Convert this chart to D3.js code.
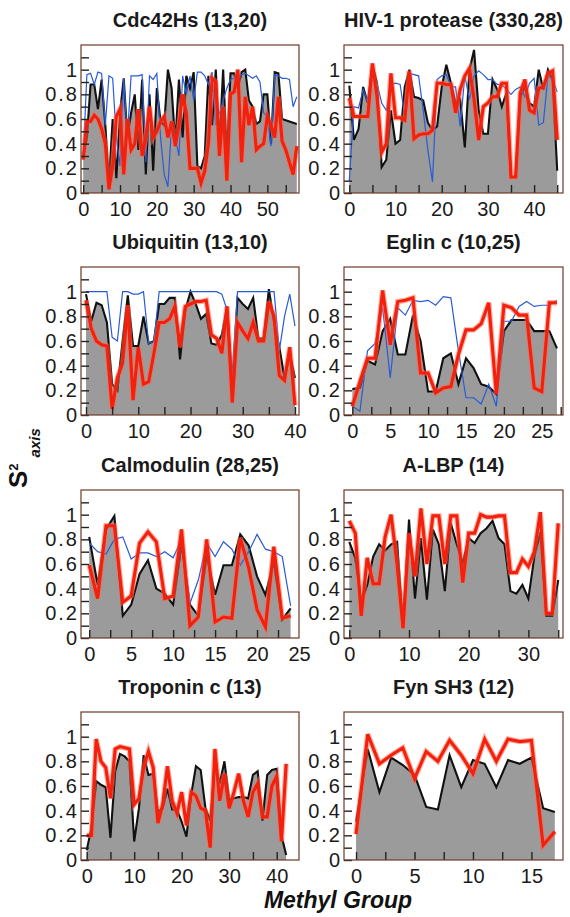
<!DOCTYPE html>
<html><head><meta charset="utf-8">
<script src="https://cdn.jsdelivr.net/npm/d3@7"></script>
<style>html,body{margin:0;padding:0;background:#fff}svg{display:block}</style>
</head><body><svg id="c" width="570" height="917"></svg>
<script>
// ---------------- DATA ----------------
const titles = ["Cdc42Hs (13,20)", "HIV-1 protease (330,28)", "Ubiquitin (13,10)", "Eglin c (10,25)",
                "Calmodulin (28,25)", "A-LBP (14)", "Troponin c (13)", "Fyn SH3 (12)"];

const cdc42Black = [0.30,0.45,0.88,0.88,0.68,0.92,0.55,0.08,0.60,0.12,0.65,0.93,0.45,0.65,0.80,0.35,0.92,0.15,0.80,0.18,0.85,0.58,0.55,1.00,0.85,0.40,0.92,0.45,0.95,0.85,0.98,0.22,0.20,0.30,0.95,0.55,1.00,0.40,1.00,0.30,0.97,0.97,0.85,0.98,1.00,0.75,0.70,0.56,0.58,0.80,0.80,0.40,0.98,0.97,0.60,0.59,0.58,0.57,0.56];
const cdc42Red   = [0.27,0.58,0.58,0.63,0.60,0.52,0.40,0.03,0.22,0.62,0.68,0.15,0.60,0.35,0.40,0.68,0.30,0.45,0.70,0.45,0.50,0.58,0.62,0.45,0.58,0.38,0.55,0.80,0.65,0.20,0.20,0.20,0.08,0.18,0.40,0.93,0.90,0.30,0.70,0.10,0.80,0.82,1.00,0.25,0.78,0.55,0.70,0.35,0.38,0.40,0.62,0.55,0.45,0.78,0.42,0.35,0.25,0.15,0.38];
const cdc42Blue  = [0.30,0.96,0.97,0.88,0.98,0.97,0.55,0.95,0.93,0.45,0.22,0.93,0.45,0.95,0.95,0.95,0.96,0.25,0.95,0.92,0.97,0.45,0.15,0.05,0.55,0.45,0.30,0.95,0.80,0.95,0.75,0.98,0.98,0.95,0.88,0.98,0.55,0.65,0.75,0.85,0.92,0.93,0.95,0.96,0.97,0.95,0.93,0.95,0.90,0.65,0.62,0.38,0.96,0.95,0.93,0.93,0.92,0.70,0.78];

const hivBlack = [0.87,0.43,0.52,0.86,0.73,1.04,0.89,0.21,0.27,0.67,0.40,0.43,0.86,1.00,0.78,0.77,0.75,0.57,0.51,0.54,0.86,1.04,0.89,0.73,0.76,0.37,1.00,1.16,0.67,0.48,0.48,0.92,0.84,0.70,0.81,0.13,0.13,0.78,0.86,0.73,0.70,1.00,0.84,1.00,0.92,0.18];
const hivRed   = [0.77,0.62,0.62,0.62,0.62,1.05,0.78,0.33,0.40,0.97,0.61,0.61,0.59,0.99,0.44,0.47,0.48,0.48,0.51,0.89,0.89,0.88,0.88,0.65,0.84,0.95,1.01,0.76,0.43,0.70,0.73,0.78,0.78,0.89,0.89,0.13,0.13,0.81,0.92,0.67,0.65,0.85,0.86,0.97,0.99,0.43];
const hivBlue  = [0.10,0.70,0.69,0.84,0.74,0.97,0.89,0.73,0.67,0.88,0.89,0.88,0.62,0.97,0.96,0.95,0.67,0.35,0.09,0.92,0.95,0.96,0.86,0.86,0.54,0.95,0.76,0.95,0.99,0.96,0.92,0.92,0.88,0.88,0.84,0.80,0.84,0.86,0.78,0.89,0.93,0.55,0.57,0.95,0.92,0.82];

const ubqBlack = [0.98,0.76,0.91,0.89,0.75,0.25,0.20,0.60,0.97,0.56,0.56,0.80,0.58,0.60,0.90,0.90,0.95,0.95,0.45,0.85,1.00,0.90,0.78,0.82,0.58,0.57,0.65,0.88,0.27,0.95,0.90,0.86,0.95,0.62,0.62,1.02,0.75,0.55,0.30,0.50,0.30];
const ubqRed   = [0.93,0.70,0.60,0.57,0.56,0.05,0.30,0.42,0.89,0.12,0.55,0.25,0.27,0.50,0.75,0.75,0.78,0.88,0.55,0.88,0.90,0.92,0.92,0.93,0.65,0.62,0.50,0.88,0.10,0.75,0.68,0.62,0.75,0.60,0.60,0.92,0.80,0.32,0.28,0.55,0.08];
const ubqBlue  = [1,1,1,1,1,0.63,0.60,1,1,0.98,0.98,1,0.58,0.60,1,1,1,1,1,1,1,1,1,1,1,1,0.98,0.85,0.27,1,1,1,1,1,1,1,1,0.52,0.80,0.98,0.72];

const eglBlack = [0.21,0.22,0.44,0.41,0.68,0.78,0.49,0.49,0.81,0.60,0.19,0.19,0.46,0.50,0.25,0.46,0.38,0.25,0.23,0.17,0.68,0.77,0.77,0.77,0.68,0.68,0.68,0.54];
const eglRed   = [0.07,0.27,0.46,0.46,1.01,0.57,0.92,0.93,0.95,0.34,0.34,0.18,0.22,0.23,0.49,0.69,0.69,0.74,0.91,0.17,0.89,0.87,0.81,0.81,0.22,0.19,0.91,0.91];
const eglBlue  = [0.07,0.03,0.52,0.58,0.87,0.30,0.87,0.81,0.93,0.92,0.93,0.89,0.96,0.95,0.52,0.14,0.14,0.09,0.25,0.07,0.76,0.76,0.88,0.92,0.88,0.89,0.89,0.93];

const calBlack = [0.82,0.43,0.88,0.99,0.18,0.27,0.52,0.63,0.40,0.36,0.27,0.76,0.27,0.18,0.67,0.35,0.59,0.59,0.84,0.75,0.50,0.35,0.62,0.15,0.24];
const calRed   = [0.59,0.32,0.91,0.91,0.29,0.34,0.77,0.86,0.78,0.32,0.34,0.88,0.10,0.17,0.80,0.13,0.17,0.16,0.81,0.57,0.23,0.09,0.74,0.16,0.18];
const calBlue  = [0.77,0.70,0.68,0.80,0.82,0.64,0.69,0.69,0.66,0.70,0.65,0.80,0.28,0.47,0.77,0.66,0.78,0.72,0.59,0.70,0.84,0.72,0.70,0.66,0.26];

const albpBlack = [0.78,0.65,0.29,0.43,0.66,0.76,0.71,0.76,0.78,0.10,0.96,0.32,0.81,0.31,0.88,0.76,0.38,0.93,0.76,0.61,0.81,0.77,0.85,0.89,0.95,0.81,0.76,0.38,0.36,0.43,0.32,0.66,0.86,0.18,0.18,0.47];
const albpRed   = [0.95,0.85,0.18,0.65,0.44,0.44,0.82,1.00,0.60,0.08,0.85,0.50,1.05,0.60,0.99,0.99,0.60,0.99,0.99,0.45,0.85,0.85,1.00,0.98,0.98,0.99,0.99,0.53,0.53,0.64,0.58,0.70,1.02,0.20,0.20,0.93];

const tropBlack = [0.08,0.26,0.64,0.61,0.59,0.18,0.72,0.86,0.84,0.80,0.15,0.42,0.85,0.69,0.70,0.39,0.42,0.58,0.41,0.41,0.31,0.19,0.53,0.76,0.73,0.42,0.32,0.77,0.62,0.80,0.49,0.50,0.51,0.51,0.50,0.69,0.72,0.32,0.69,0.73,0.74,0.20,0.04];
const tropRed   = [0.20,0.20,0.98,0.80,0.75,0.50,0.90,0.92,0.91,0.90,0.45,0.50,0.75,0.88,0.75,0.30,0.45,0.76,0.48,0.38,0.55,0.28,0.55,0.52,0.42,0.40,0.10,0.90,0.48,0.70,0.42,0.55,0.70,0.48,0.35,0.55,0.62,0.35,0.35,0.60,0.68,0.15,0.78];

const fynBlack = [0.31,0.90,0.55,0.83,0.77,0.69,0.43,0.41,0.85,0.59,0.81,0.78,0.59,0.81,0.78,0.83,0.42,0.39];
const fynRed   = [0.21,1.02,0.78,0.85,0.91,0.66,0.88,0.80,0.97,0.85,0.70,0.98,0.80,0.98,0.96,0.97,0.12,0.23];

const xTickLabels = [
  [0,10,20,30,40,50], [0,10,20,30,40], [0,10,20,30,40], [0,5,10,15,20,25],
  [0,5,10,15,20,25], [0,10,20,30], [0,10,20,30,40], [0,5,10,15]
];
const yTickLabels = [0, 0.2, 0.4, 0.6, 0.8, 1];
const yLabelMain = "S", yLabelSup = "2", yLabelSub = "axis";
const xLabel = "Methyl Group";

// ---------------- LAYOUT ----------------
const colX = [81, 344], colW = [218, 219];
const rowY = [45, 267, 490, 712], panelH = 148;
const xDomains = [[-0.6, 58.6], [-1.15, 46.25], [-0.96, 40.77], [-1.1, 27.8],
                  [-0.98, 25.0], [-0.89, 35.8], [-1.2, 44.7], [-1.03, 17.7]];
const series = [
  [cdc42Black, cdc42Red, cdc42Blue], [hivBlack, hivRed, hivBlue],
  [ubqBlack, ubqRed, ubqBlue], [eglBlack, eglRed, eglBlue],
  [calBlack, calRed, calBlue], [albpBlack, albpRed, null],
  [tropBlack, tropRed, null], [fynBlack, fynRed, null]
];
const FONT = "'Liberation Sans', Arial, Helvetica, sans-serif";

const svg = d3.select("#c");
const defs = svg.append("defs");

series.forEach((s, i) => {
  const col = i % 2, row = Math.floor(i / 2);
  const L = colX[col], W = colW[col], T = rowY[row], B = T + panelH;
  const x = d3.scaleLinear().domain(xDomains[i]).range([L, L + W]);
  const y = d3.scaleLinear().domain([0, 1.2]).range([B, T]);
  const g = svg.append("g");

  defs.append("clipPath").attr("id", "clip" + i)
    .append("rect").attr("x", L).attr("y", T).attr("width", W).attr("height", panelH);
  const pg = g.append("g").attr("clip-path", `url(#clip${i})`);

  const [black, red, blue] = s;
  const area = d3.area().x((d, k) => x(k)).y0(y(0)).y1(d => y(d));
  const line = d3.line().x((d, k) => x(k)).y(d => y(d));

  pg.append("path").datum(black).attr("d", area).attr("fill", "#9b9b9b");
  pg.append("path").datum(black).attr("d", line).attr("fill", "none")
    .attr("stroke", "#111").attr("stroke-width", 2.1);
  if (blue) pg.append("path").datum(blue).attr("d", line).attr("fill", "none")
    .attr("stroke", "#2a5bd6").attr("stroke-width", 1.2);
  pg.append("path").datum(red).attr("d", line).attr("fill", "none")
    .attr("stroke", "#ff6a50").attr("stroke-opacity", 0.55).attr("stroke-width", 5.4);
  pg.append("path").datum(red).attr("d", line).attr("fill", "none")
    .attr("stroke", "#f2200c").attr("stroke-width", 3.1);

  // y ticks (inward)
  const yt = g.append("g").attr("transform", `translate(${L},0)`)
    .call(d3.axisRight(y).tickValues(d3.range(0, 11.5).map(v => v / 10).filter(v => v <= 1.1))
      .tickSize(8).tickFormat(""));
  yt.select(".domain").remove();
  yt.selectAll("line").attr("stroke", "#222").attr("stroke-width", 1.4);
  // y labels
  const yl = g.append("g").attr("transform", `translate(${L},0)`)
    .call(d3.axisLeft(y).tickValues(yTickLabels).tickSize(0).tickPadding(2)
      .tickFormat(d => d === 0 ? "0" : d === 1 ? "1" : d3.format(".1f")(d)));
  yl.select(".domain").remove();
  yl.selectAll("text").attr("font-family", FONT).attr("font-size", 20)
    .attr("letter-spacing", 2).attr("fill", "#1a1a1a");

  // x ticks (inward), at half of label step
  const labs = xTickLabels[i];
  const step = (labs[1] - labs[0]) / 2;
  const tv = d3.range(0, xDomains[i][1] + 1e-6, step).filter(v => v <= xDomains[i][1] - 0.3);
  const xt = g.append("g").attr("transform", `translate(0,${B})`)
    .call(d3.axisTop(x).tickValues(tv).tickSize(8).tickFormat(""));
  xt.select(".domain").remove();
  xt.selectAll("line").attr("stroke", "#222").attr("stroke-width", 1.4);
  const xl = g.append("g").attr("transform", `translate(0,${B})`)
    .call(d3.axisBottom(x).tickValues(labs).tickSize(0).tickPadding(9));
  xl.select(".domain").remove();
  xl.selectAll("text").attr("font-family", FONT).attr("font-size", 20).attr("fill", "#1a1a1a");

  // frame
  g.append("rect").attr("x", L).attr("y", T).attr("width", W).attr("height", panelH)
    .attr("fill", "none").attr("stroke", "#6e3a28").attr("stroke-width", 1.2);

  // title
  g.append("text").attr("x", L + W / 2).attr("y", T - 18).attr("text-anchor", "middle")
    .attr("font-family", FONT).attr("font-weight", "bold").attr("font-size", 20)
    .attr("fill", "#1a1a1a").text(titles[i]);
});

// axis labels
const yLab = svg.append("text").attr("transform", "translate(27,488) rotate(-90)")
  .attr("font-family", FONT).attr("font-weight", "bold").attr("fill", "#111");
yLab.append("tspan").attr("font-size", 26).text(yLabelMain);
yLab.append("tspan").attr("font-size", 13).attr("dy", -9).text(yLabelSup);
yLab.append("tspan").attr("font-size", 15).attr("font-style", "italic").attr("dx", 6).attr("dy", 22).text(yLabelSub);

svg.append("text").attr("x", 338).attr("y", 908).attr("text-anchor", "middle")
  .attr("font-family", FONT).attr("font-weight", "bold").attr("font-style", "italic")
  .attr("font-size", 23).attr("fill", "#111").text(xLabel);
</script></body></html>
